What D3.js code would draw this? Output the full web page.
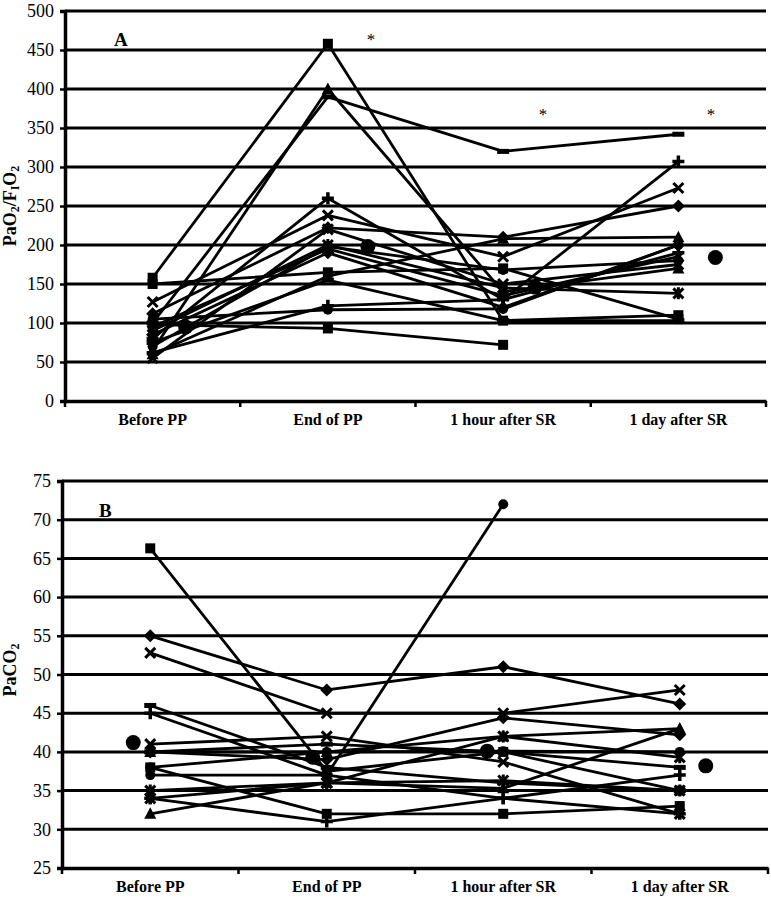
<!DOCTYPE html>
<html>
<head>
<meta charset="utf-8">
<script src="https://cdn.jsdelivr.net/npm/d3@7"></script>
<style>
  html, body { margin: 0; padding: 0; background: #fff; }
  svg { display: block; }
</style>
</head>
<body>
<svg id="chart" width="771" height="900"></svg>
<script>
// ---------------- DATA ----------------
const categories = ["Before PP", "End of PP", "1 hour after SR", "1 day after SR"];

const ticksA = [0, 50, 100, 150, 200, 250, 300, 350, 400, 450, 500];
const ticksB = [25, 30, 35, 40, 45, 50, 55, 60, 65, 70, 75];

// Panel A: PaO2/FIO2 per patient (Before, End, 1h, 1d)
const paO2Markers = ["dash", "square", "triangle", "plus", "x", "diamond", "star", "circle",
                     "diamond", "square", "triangle", "star", "plus", "circle", "square", "x", "dash"];
const paO2Values = [
  [100, 390, 320, 342],
  [158, 458, 103, 110],
  [65, 400, 140, 170],
  [80, 260, 130, 307],
  [127, 238, 185, 273],
  [112, 222, 210, 250],
  [90, 200, 145, 138],
  [70, 198, 168, 180],
  [85, 190, 120, 200],
  [150, 165, 170, 105],
  [60, 160, 208, 210],
  [95, 195, 135, 185],
  [62, 122, 130, 190],
  [105, 117, 118, 200],
  [98, 93, 72, null],
  [55, 220, 150, 175],
  [75, 155, 103, 103]
];
const paO2Means = [95, 198, 146, 184];

// Panel B: PaCO2 per patient (Before, End, 1h, 1d)
const paCO2Markers = ["square", "diamond", "x", "circle", "dash", "plus", "x", "triangle",
                      "dash", "square", "star", "star", "triangle", "plus", "diamond", "circle"];
const paCO2Values = [
  [66.3, 37.5, 40, 35],
  [55, 48, 51, 46.2],
  [52.8, 45, 45, 48],
  [37, 37, 72, null],
  [46, 38, 36, 35],
  [45, 37, 34, 37],
  [41, 42, 38.7, 32],
  [40, 40, 42, 43],
  [40, 41, 40, 38],
  [38, 32, 32, 33],
  [35, 36, 42, 39.3],
  [34, 36, 36.3, 35],
  [32, 36, 35.3, 43],
  [34, 31, 34, 32],
  [40, 39, 44.4, 42.2],
  [38, 40, 40.1, 40]
];
const paCO2Means = [41.2, 39.3, 40.1, 38.2];

// ---------------- STYLE / LAYOUT ----------------
const meanOffsetsA = [33, 40, 32, 37];
const meanOffsetsB = [-17, -14, -16, 26];

const svg = d3.select("#chart");
const FONT = "'Liberation Serif', 'Times New Roman', serif";

function drawMarker(g, type, x, y) {
  const s = 5;
  switch (type) {
    case "diamond":
      g.append("path").attr("d", `M${x},${y - 6.5}L${x + 6.5},${y}L${x},${y + 6.5}L${x - 6.5},${y}Z`).attr("fill", "#000");
      break;
    case "square":
      g.append("rect").attr("x", x - s).attr("y", y - s).attr("width", 2 * s).attr("height", 2 * s).attr("fill", "#000");
      break;
    case "triangle":
      g.append("path").attr("d", `M${x},${y - 6.5}L${x + 6},${y + 5}L${x - 6},${y + 5}Z`).attr("fill", "#000");
      break;
    case "x":
      g.append("path").attr("d", `M${x - s},${y - s}L${x + s},${y + s}M${x - s},${y + s}L${x + s},${y - s}`)
        .attr("stroke", "#000").attr("stroke-width", 3).attr("fill", "none");
      break;
    case "star":
      g.append("path").attr("d", `M${x - s},${y - s}L${x + s},${y + s}M${x - s},${y + s}L${x + s},${y - s}M${x},${y - 6}L${x},${y + 6}`)
        .attr("stroke", "#000").attr("stroke-width", 3).attr("fill", "none");
      break;
    case "circle":
      g.append("circle").attr("cx", x).attr("cy", y).attr("r", 5).attr("fill", "#000");
      break;
    case "plus":
      g.append("path").attr("d", `M${x - 6},${y}L${x + 6},${y}M${x},${y - 6}L${x},${y + 6}`)
        .attr("stroke", "#000").attr("stroke-width", 3.5).attr("fill", "none");
      break;
    case "dash":
      g.append("rect").attr("x", x - 6).attr("y", y - 2.5).attr("width", 12).attr("height", 5).attr("fill", "#000");
      break;
  }
}

function panel(opts) {
  const g = svg.append("g");
  const x = d3.scaleBand().domain(categories).range([opts.left, opts.right]).paddingInner(0).paddingOuter(0);
  const y = d3.scaleLinear().domain(opts.domain).range([opts.bottom, opts.top]);
  const cx = c => x(c) + x.bandwidth() / 2;

  // gridlines
  g.append("g").selectAll("line").data(opts.ticks.slice(1)).join("line")
    .attr("x1", opts.left).attr("x2", opts.right)
    .attr("y1", d => y(d)).attr("y2", d => y(d))
    .attr("stroke", "#000").attr("stroke-width", 3);

  // y axis
  const yAxis = g.append("g").attr("transform", `translate(${opts.left},0)`)
    .call(d3.axisLeft(y).tickValues(opts.ticks).tickSize(5).tickPadding(6));
  yAxis.select(".domain").attr("stroke", "#000").attr("stroke-width", 3.5);
  yAxis.selectAll(".tick line").attr("stroke", "#000").attr("stroke-width", 2.5);
  yAxis.selectAll(".tick text").attr("font-family", FONT).attr("font-size", 18).attr("fill", "#000");

  // x axis
  const xAxis = g.append("g").attr("transform", `translate(0,${opts.bottom})`)
    .call(d3.axisBottom(x).tickSize(0).tickPadding(opts.labelPad));
  xAxis.select(".domain").attr("stroke", "#000").attr("stroke-width", 3.5);
  xAxis.selectAll(".tick text").attr("font-family", FONT).attr("font-size", 16)
    .attr("font-weight", "bold").attr("fill", "#000");
  const edges = categories.map(c => x(c)).concat([opts.right]);
  g.append("g").selectAll("line").data(edges).join("line")
    .attr("x1", d => d).attr("x2", d => d)
    .attr("y1", opts.bottom).attr("y2", opts.bottom + 6)
    .attr("stroke", "#000").attr("stroke-width", 2.5);

  // series lines
  const line = d3.line()
    .defined(d => d.v != null)
    .x(d => cx(d.c)).y(d => y(d.v));
  opts.values.forEach((vals, i) => {
    const pts = vals.map((v, j) => ({ c: categories[j], v }));
    g.append("path").datum(pts).attr("d", line)
      .attr("fill", "none").attr("stroke", "#000").attr("stroke-width", 2.8)
      .attr("stroke-linejoin", "round");
  });
  opts.values.forEach((vals, i) => {
    const mg = g.append("g");
    vals.forEach((v, j) => {
      if (v != null) drawMarker(mg, opts.markers[i], cx(categories[j]), y(v));
    });
  });

  // mean markers
  g.append("g").selectAll("circle").data(opts.means).join("circle")
    .attr("cx", (d, j) => cx(categories[j]) + opts.meanOffsets[j])
    .attr("cy", d => y(d)).attr("r", 7.5).attr("fill", "#000");

  // panel letter
  g.append("text").attr("x", opts.letterX).attr("y", opts.letterY)
    .attr("font-family", FONT).attr("font-weight", "bold").attr("font-size", 19)
    .attr("fill", "#000")
    .text(opts.letter);

  return { g, x, y, cx };
}

// Panel A
const A = panel({
  left: 65, right: 766, top: 11, bottom: 401,
  domain: [0, 500], ticks: ticksA,
  values: paO2Values, markers: paO2Markers,
  means: paO2Means, meanOffsets: meanOffsetsA,
  letter: "A", letterX: 114, letterY: 46, labelPad: 13
});

// Panel B
const B = panel({
  left: 62, right: 768, top: 481, bottom: 868,
  domain: [25, 75], ticks: ticksB,
  values: paCO2Values, markers: paCO2Markers,
  means: paCO2Means, meanOffsets: meanOffsetsB,
  letter: "B", letterX: 99, letterY: 517, labelPad: 13
});

// asterisks (significance)
const stars = [
  { x: 371, y: 45 },
  { x: 543, y: 120 },
  { x: 711, y: 120 }
];
svg.append("g").selectAll("text").data(stars).join("text")
  .attr("x", d => d.x).attr("y", d => d.y)
  .attr("text-anchor", "middle").attr("fill", "#000")
  .attr("font-family", FONT).attr("font-size", 17).text("*");

// y axis titles
const tA = svg.append("text")
  .attr("transform", "translate(16,206) rotate(-90)")
  .attr("text-anchor", "middle").attr("fill", "#000")
  .attr("font-family", FONT).attr("font-weight", "bold").attr("font-size", 18);
tA.append("tspan").text("PaO");
tA.append("tspan").attr("font-size", 12).attr("dy", 3).text("2");
tA.append("tspan").attr("dy", -3).text("/F");
tA.append("tspan").attr("font-size", 12).attr("dy", 3).text("I");
tA.append("tspan").attr("dy", -3).text("O");
tA.append("tspan").attr("font-size", 12).attr("dy", 3).text("2");

const tB = svg.append("text")
  .attr("transform", "translate(16,670) rotate(-90)")
  .attr("text-anchor", "middle").attr("fill", "#000")
  .attr("font-family", FONT).attr("font-weight", "bold").attr("font-size", 18);
tB.append("tspan").text("PaCO");
tB.append("tspan").attr("font-size", 12).attr("dy", 3).text("2");
</script>
</body>
</html>
